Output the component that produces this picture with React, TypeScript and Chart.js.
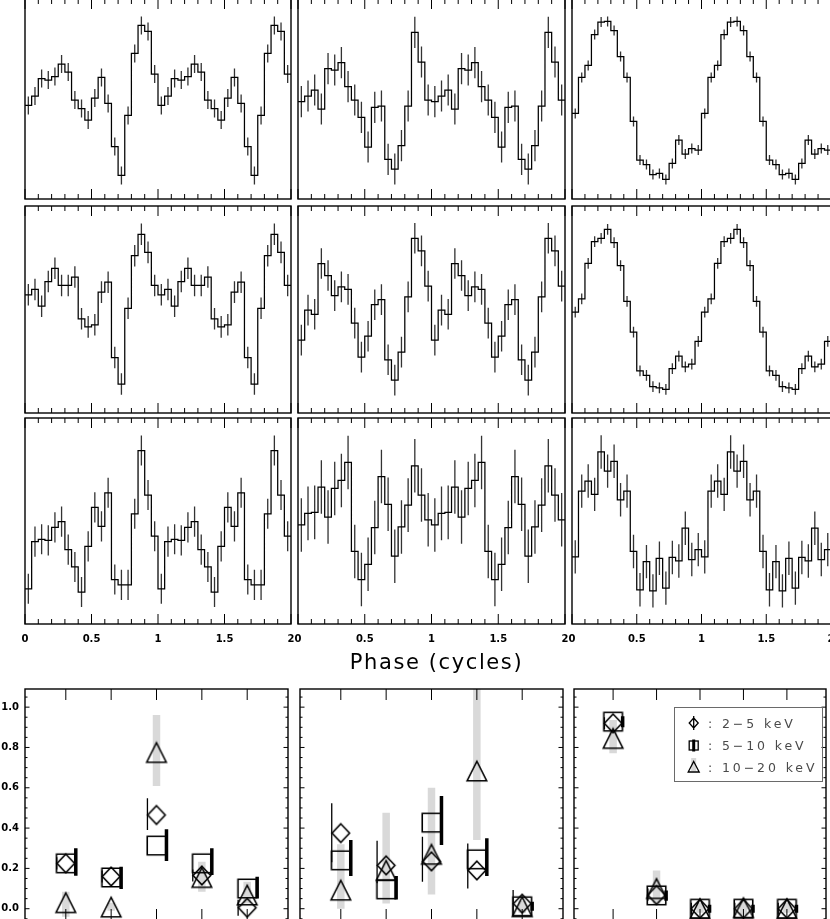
import React, { useEffect, useRef } from 'react';
import { Chart, registerables } from 'chart.js';

Chart.register(...registerables);

const FONT_FAMILY = '"DejaVu Sans", "Liberation Sans", Arial, sans-serif';

/* ---------------- upper panels: pulse profiles ---------------- */
const PHASE_TICKS = [0, 0.5, 1, 1.5, 2];
const PHASE_TICK_LABELS = ['0', '0.5', '1', '1.5', '2'];
const PHASE_MINOR_TICKS = [0.1, 0.2, 0.3, 0.4, 0.6, 0.7, 0.8, 0.9, 1.1, 1.2, 1.3, 1.4, 1.6, 1.7, 1.8, 1.9];
const PHASE_BIN_WIDTH = 0.05;
const PHASE_CYCLES = 2;

// normalised count rate per phase bin (one cycle, 20 bins), shown twice
const PROFILE_R1C1 = [0.468, 0.515, 0.602, 0.595, 0.612, 0.675, 0.635, 0.495, 0.452, 0.395, 0.505, 0.608, 0.478, 0.262, 0.118, 0.418, 0.728, 0.868, 0.838, 0.625];
const PROFILE_R1C2 = [0.487, 0.515, 0.545, 0.450, 0.652, 0.645, 0.682, 0.562, 0.495, 0.408, 0.260, 0.458, 0.465, 0.198, 0.150, 0.267, 0.465, 0.833, 0.685, 0.495];
const PROFILE_R1C3 = [0.428, 0.608, 0.668, 0.822, 0.885, 0.888, 0.842, 0.712, 0.608, 0.388, 0.195, 0.172, 0.122, 0.128, 0.098, 0.178, 0.295, 0.225, 0.252, 0.245];
const PROFILE_R2C1 = [0.571, 0.597, 0.516, 0.635, 0.699, 0.616, 0.616, 0.657, 0.455, 0.416, 0.426, 0.584, 0.632, 0.268, 0.140, 0.506, 0.760, 0.863, 0.776, 0.616];
const PROFILE_R2C2 = [0.352, 0.497, 0.477, 0.722, 0.664, 0.567, 0.609, 0.597, 0.434, 0.270, 0.371, 0.523, 0.548, 0.257, 0.159, 0.294, 0.561, 0.844, 0.783, 0.613];
const PROFILE_R2C3 = [0.487, 0.551, 0.723, 0.828, 0.844, 0.887, 0.823, 0.712, 0.539, 0.391, 0.204, 0.182, 0.127, 0.121, 0.114, 0.214, 0.275, 0.223, 0.236, 0.346];
const PROFILE_R3C1 = [0.171, 0.400, 0.411, 0.406, 0.469, 0.497, 0.361, 0.277, 0.155, 0.377, 0.566, 0.474, 0.637, 0.216, 0.190, 0.190, 0.535, 0.842, 0.626, 0.426];
const PROFILE_R3C2 = [0.481, 0.537, 0.542, 0.665, 0.519, 0.658, 0.697, 0.784, 0.352, 0.216, 0.290, 0.468, 0.716, 0.581, 0.329, 0.471, 0.577, 0.768, 0.626, 0.506];
const PROFILE_R3C3 = [0.326, 0.645, 0.694, 0.629, 0.835, 0.742, 0.790, 0.603, 0.645, 0.352, 0.166, 0.303, 0.161, 0.319, 0.174, 0.323, 0.306, 0.465, 0.313, 0.361];

// 1-sigma error of each panel (row-major)
const PROFILE_ERRORS = [0.045, 0.078, 0.025, 0.052, 0.074, 0.026, 0.073, 0.130, 0.081];

/* ---------------- lower panels: fractions per phase interval ---------------- */
const INTERVALS = [1, 2, 3, 4, 5];
const FRACTION_TICKS = [0, 0.2, 0.4, 0.6, 0.8, 1.0];
const FRACTION_TICK_LABELS = ['0.0', '0.2', '0.4', '0.6', '0.8', '1.0'];
const FRACTION_MINOR_TICKS = [-0.05, 0.05, 0.1, 0.15, 0.25, 0.3, 0.35, 0.45, 0.5, 0.55, 0.65, 0.7, 0.75, 0.85, 0.9, 0.95, 1.05];
const ENERGY_BANDS = ['2\u22125 keV', '5\u221210 keV', '10\u221220 keV'];

// left panel
const A_SOFT = [0.225, 0.16, 0.465, 0.165, 0.005];
const A_SOFT_LO = [0.195, 0.13, 0.39, 0.135, -0.035];
const A_SOFT_HI = [0.255, 0.19, 0.548, 0.195, 0.045];
const A_MID = [0.225, 0.155, 0.313, 0.225, 0.10];
const A_MID_LO = [0.164, 0.098, 0.237, 0.167, 0.051];
const A_MID_HI = [0.30, 0.208, 0.394, 0.30, 0.159];
const A_HARD = [0.03, 0.008, 0.775, 0.155, 0.068];
const A_HARD_LO = [-0.04, -0.01, 0.609, 0.084, 0.026];
const A_HARD_HI = [0.084, 0.03, 0.961, 0.233, 0.134];
// middle panel
const B_SOFT = [0.375, 0.215, 0.235, 0.19, 0.025];
const B_SOFT_LO = [0.23, 0.126, 0.134, 0.10, -0.04];
const B_SOFT_HI = [0.523, 0.337, 0.357, 0.324, 0.093];
const B_MID = [0.24, 0.096, 0.427, 0.245, 0.012];
const B_MID_LO = [0.162, 0.046, 0.316, 0.162, -0.01];
const B_MID_HI = [0.341, 0.162, 0.559, 0.349, 0.035];
const B_HARD = [0.092, 0.19, 0.27, 0.683, 0.01];
const B_HARD_LO = [0.0, 0.026, 0.071, 0.341, -0.02];
const B_HARD_HI = [0.32, 0.476, 0.60, 1.1, 0.04];
// right panel
const C_SOFT = [0.92, 0.068, 0.0, 0.0, 0.0];
const C_SOFT_LO = [0.89, 0.04, -0.03, -0.03, -0.03];
const C_SOFT_HI = [0.95, 0.10, 0.03, 0.03, 0.03];
const C_MID = [0.928, 0.066, 0.0, 0.0, 0.0];
const C_MID_LO = [0.90, 0.04, -0.02, -0.02, -0.02];
const C_MID_HI = [0.955, 0.09, 0.02, 0.02, 0.02];
const C_HARD = [0.845, 0.10, 0.0, 0.005, 0.0];
const C_HARD_LO = [0.771, 0.026, -0.02, -0.03, -0.02];
const C_HARD_HI = [0.936, 0.19, 0.03, 0.05, 0.03];

/* ---------------- geometry (page pixels) ---------------- */
const UPPER_COLS = [{ l: 25, r: 291 }, { l: 298, r: 565 }, { l: 572, r: 831 }];
const UPPER_ROWS = [{ t: -1, b: 199 }, { t: 206, b: 413 }, { t: 418, b: 624 }];
const LOWER_COLS = [{ l: 25, r: 290 }, { l: 298, r: 565 }, { l: 572, r: 828 }];
const LOWER_ROW = { t: 689, b: 920 };
const SOFT_BAR_SHIFT = -0.2;
const MID_BAR_SHIFT = 0.22;

type TickSpec = { major: number[]; minor: number[]; majorLen: number; minorLen: number };

function framePlugin(xt: TickSpec, yt: TickSpec | null) {
  return {
    id: 'frameTicks',
    afterDatasetsDraw(chart: any) {
      const { ctx, chartArea: a, scales } = chart;
      const xs = scales.x;
      const ys = scales.y;
      ctx.save();
      ctx.strokeStyle = '#000';
      ctx.lineWidth = 1;
      ctx.beginPath();
      const xTick = (v: number, len: number) => {
        const p = xs.getPixelForValue(v);
        ctx.moveTo(p, a.top);
        ctx.lineTo(p, a.top + len);
        ctx.moveTo(p, a.bottom);
        ctx.lineTo(p, a.bottom - len);
      };
      const yTick = (v: number, len: number) => {
        const p = ys.getPixelForValue(v);
        ctx.moveTo(a.left, p);
        ctx.lineTo(a.left + len, p);
        ctx.moveTo(a.right, p);
        ctx.lineTo(a.right - len, p);
      };
      xt.major.forEach((v) => xTick(v, xt.majorLen));
      xt.minor.forEach((v) => xTick(v, xt.minorLen));
      if (yt) {
        yt.major.forEach((v) => yTick(v, yt.majorLen));
        yt.minor.forEach((v) => yTick(v, yt.minorLen));
      }
      ctx.stroke();
      ctx.lineWidth = 1.4;
      ctx.strokeRect(a.left, a.top, a.right - a.left, a.bottom - a.top);
      ctx.restore();
    },
  };
}

function profileConfig(vals: number[], err: number, withLabels: boolean, pad: any) {
  const steps: any[] = [];
  const bars: any[] = [];
  for (let c = 0; c < PHASE_CYCLES; c++) {
    vals.forEach((v, i) => {
      const x0 = (c * vals.length + i) * PHASE_BIN_WIDTH;
      steps.push({ x: x0, y: v });
      const xc = x0 + PHASE_BIN_WIDTH / 2;
      bars.push({ x: xc, y: v - err }, { x: xc, y: v + err }, { x: xc, y: null });
    });
  }
  steps.push({ x: PHASE_CYCLES * vals.length * PHASE_BIN_WIDTH, y: vals[vals.length - 1] });

  return {
    type: 'line',
    data: {
      datasets: [
        { data: steps, stepped: 'before', borderColor: '#000', borderWidth: 1.25, pointRadius: 0, fill: false, order: 1 },
        { data: bars, borderColor: '#333', borderWidth: 1.3, pointRadius: 0, fill: false, spanGaps: false, order: 2 },
      ],
    },
    options: {
      animation: false,
      responsive: false,
      maintainAspectRatio: false,
      events: [],
      layout: { padding: pad },
      plugins: { legend: { display: false }, tooltip: { enabled: false } },
      scales: {
        x: {
          type: 'linear',
          min: 0,
          max: 2,
          display: withLabels,
          position: 'bottom',
          grid: { display: false, drawTicks: false },
          border: { display: false },
          afterBuildTicks: (s: any) => {
            s.ticks = PHASE_TICKS.map((v) => ({ value: v }));
          },
          afterFit: (s: any) => {
            if (withLabels) s.height = 28;
          },
          ticks: {
            autoSkip: false,
            maxRotation: 0,
            padding: 9,
            color: '#000',
            font: { family: FONT_FAMILY, size: 10, weight: 'bold' },
            callback: (_v: any, i: number) => PHASE_TICK_LABELS[i],
          },
        },
        y: { type: 'linear', min: 0, max: 1, display: false },
      },
    },
    plugins: [
      framePlugin({ major: PHASE_TICKS, minor: PHASE_MINOR_TICKS, majorLen: 10, minorLen: 5 }, null),
    ],
  };
}

function markerCanvas(kind: string, w: number, h: number, lw: number) {
  const c = document.createElement('canvas');
  const W = Math.ceil(w + lw + 2);
  const H = Math.ceil(h + lw + 2);
  c.width = W;
  c.height = H;
  const g = c.getContext('2d')!;
  g.strokeStyle = '#000';
  g.lineWidth = lw;
  g.lineJoin = 'miter';
  const cx = W / 2;
  const cy = H / 2;
  g.beginPath();
  if (kind === 'diamond') {
    g.moveTo(cx, cy - h / 2);
    g.lineTo(cx + w / 2, cy);
    g.lineTo(cx, cy + h / 2);
    g.lineTo(cx - w / 2, cy);
    g.closePath();
  } else if (kind === 'square') {
    g.rect(cx - w / 2, cy - h / 2, w, h);
  } else {
    g.moveTo(cx, cy - h / 2);
    g.lineTo(cx + w / 2, cy + h / 2);
    g.lineTo(cx - w / 2, cy + h / 2);
    g.closePath();
  }
  g.stroke();
  return c;
}

function barData(lo: number[], hi: number[], shift: number) {
  const out: any[] = [];
  INTERVALS.forEach((x, i) => {
    out.push({ x: x + shift, y: lo[i] }, { x: x + shift, y: hi[i] }, { x: x + shift, y: null });
  });
  return out;
}

function pointData(vals: number[]) {
  return INTERVALS.map((x, i) => ({ x, y: vals[i] }));
}

const LEGEND_GEOM = {
  l: 100.5, t: 18.5, w: 148, h: 74,
  symX: 119.7, symY: [34, 56.5, 78],
  textX: 134, baselines: [38.5, 61, 82.5],
};

function legendPlugin() {
  return {
    id: 'bandLegend',
    afterDraw(chart: any) {
      const { ctx, chartArea: a } = chart;
      const L = LEGEND_GEOM;
      const x0 = a.left;
      const y0 = a.top;
      ctx.save();
      ctx.strokeStyle = '#6a6a6a';
      ctx.lineWidth = 1;
      ctx.strokeRect(x0 + L.l, y0 + L.t, L.w, L.h);
      const sx = x0 + L.symX;
      // 2-5 keV: diamond + thin bar
      let sy = y0 + L.symY[0];
      ctx.strokeStyle = '#000';
      ctx.lineWidth = 1.3;
      ctx.beginPath();
      ctx.moveTo(sx, sy - 7);
      ctx.lineTo(sx, sy + 7);
      ctx.moveTo(sx, sy - 5);
      ctx.lineTo(sx + 4.5, sy);
      ctx.lineTo(sx, sy + 5);
      ctx.lineTo(sx - 4.5, sy);
      ctx.closePath();
      ctx.stroke();
      // 5-10 keV: square + thick bar
      sy = y0 + L.symY[1];
      ctx.lineWidth = 1.3;
      ctx.strokeRect(sx - 4.5, sy - 4.5, 9, 9);
      ctx.lineWidth = 3;
      ctx.beginPath();
      ctx.moveTo(sx, sy - 6);
      ctx.lineTo(sx, sy + 6);
      ctx.stroke();
      // 10-20 keV: triangle + grey bar
      sy = y0 + L.symY[2];
      ctx.strokeStyle = '#d8d8d8';
      ctx.lineWidth = 5;
      ctx.beginPath();
      ctx.moveTo(sx, sy - 9);
      ctx.lineTo(sx, sy + 4);
      ctx.stroke();
      ctx.strokeStyle = '#000';
      ctx.lineWidth = 1.3;
      ctx.beginPath();
      ctx.moveTo(sx, sy - 5.5);
      ctx.lineTo(sx + 5.5, sy + 5);
      ctx.lineTo(sx - 5.5, sy + 5);
      ctx.closePath();
      ctx.stroke();
      // labels
      ctx.font = `12.5px ${FONT_FAMILY}`;
      (ctx as any).letterSpacing = '2.9px';
      ctx.fillStyle = '#4a4a4a';
      ctx.textAlign = 'left';
      ctx.textBaseline = 'alphabetic';
      ENERGY_BANDS.forEach((b, i) => {
        ctx.fillText(': ' + b, x0 + L.textX, y0 + L.baselines[i]);
      });
      (ctx as any).letterSpacing = '0px';
      ctx.restore();
    },
  };
}

const LOWER_PANELS = [
  { soft: A_SOFT, softLo: A_SOFT_LO, softHi: A_SOFT_HI, mid: A_MID, midLo: A_MID_LO, midHi: A_MID_HI, hard: A_HARD, hardLo: A_HARD_LO, hardHi: A_HARD_HI },
  { soft: B_SOFT, softLo: B_SOFT_LO, softHi: B_SOFT_HI, mid: B_MID, midLo: B_MID_LO, midHi: B_MID_HI, hard: B_HARD, hardLo: B_HARD_LO, hardHi: B_HARD_HI },
  { soft: C_SOFT, softLo: C_SOFT_LO, softHi: C_SOFT_HI, mid: C_MID, midLo: C_MID_LO, midHi: C_MID_HI, hard: C_HARD, hardLo: C_HARD_LO, hardHi: C_HARD_HI },
];

function fractionConfig(p: any, showY: boolean, withLegend: boolean, pad: any) {
  const diamond = markerCanvas('diamond', 17.5, 18.5, 1.6);
  const square = markerCanvas('square', 18.5, 18.5, 1.6);
  const triangle = markerCanvas('triangle', 19.5, 19.5, 1.6);
  const plugins: any[] = [
    framePlugin(
      { major: INTERVALS, minor: [], majorLen: 11, minorLen: 0 },
      { major: FRACTION_TICKS, minor: FRACTION_MINOR_TICKS, majorLen: 4.5, minorLen: 2.5 },
    ),
  ];
  if (withLegend) plugins.push(legendPlugin());
  return {
    type: 'line',
    data: {
      datasets: [
        { label: ENERGY_BANDS[2] + ' err', data: barData(p.hardLo, p.hardHi, 0), borderColor: '#d9d9d9', borderWidth: 7.5, pointRadius: 0, spanGaps: false, order: 6 },
        { label: ENERGY_BANDS[2], data: pointData(p.hard), showLine: false, pointStyle: triangle, pointRadius: 3, order: 5 },
        { label: ENERGY_BANDS[1] + ' err', data: barData(p.midLo, p.midHi, MID_BAR_SHIFT), borderColor: '#000', borderWidth: 3.5, pointRadius: 0, spanGaps: false, order: 4 },
        { label: ENERGY_BANDS[1], data: pointData(p.mid), showLine: false, pointStyle: square, pointRadius: 3, order: 3 },
        { label: ENERGY_BANDS[0] + ' err', data: barData(p.softLo, p.softHi, SOFT_BAR_SHIFT), borderColor: '#000', borderWidth: 1.3, pointRadius: 0, spanGaps: false, order: 2 },
        { label: ENERGY_BANDS[0], data: pointData(p.soft), showLine: false, pointStyle: diamond, pointRadius: 3, order: 1 },
      ],
    },
    options: {
      animation: false,
      responsive: false,
      maintainAspectRatio: false,
      events: [],
      layout: { padding: pad },
      plugins: { legend: { display: false }, tooltip: { enabled: false } },
      scales: {
        x: { type: 'linear', min: 0.1, max: 5.9, display: false },
        y: {
          type: 'linear',
          min: -0.056,
          max: 1.09,
          display: showY,
          position: 'left',
          grid: { display: false, drawTicks: false },
          border: { display: false },
          afterBuildTicks: (s: any) => {
            s.ticks = FRACTION_TICKS.map((v) => ({ value: v }));
          },
          afterFit: (s: any) => {
            if (showY) s.width = 25;
          },
          ticks: {
            padding: 6,
            color: '#000',
            font: { family: FONT_FAMILY, size: 10, weight: 'bold' },
            callback: (_v: any, i: number) => FRACTION_TICK_LABELS[i],
          },
        },
      },
    },
    plugins,
  };
}

function ChartCanvas({ left, top, width, height, build }: any) {
  const ref = useRef<HTMLCanvasElement>(null);
  useEffect(() => {
    const chart = new Chart(ref.current as HTMLCanvasElement, build());
    return () => chart.destroy();
  }, []);
  return (
    <canvas
      ref={ref}
      width={width}
      height={height}
      style={{ position: 'absolute', left, top, width, height }}
    />
  );
}

const PROFILES = [
  PROFILE_R1C1, PROFILE_R1C2, PROFILE_R1C3,
  PROFILE_R2C1, PROFILE_R2C2, PROFILE_R2C3,
  PROFILE_R3C1, PROFILE_R3C2, PROFILE_R3C3,
];

export default function App() {
  const upper: any[] = [];
  UPPER_ROWS.forEach((row, ri) => {
    UPPER_COLS.forEach((col, ci) => {
      const idx = ri * 3 + ci;
      const withLabels = ri === 2;
      const pad = withLabels ? { left: 20, right: 20, top: 3, bottom: 0 } : { left: 3, right: 3, top: 3, bottom: 3 };
      const width = col.r - col.l + pad.left + pad.right;
      const height = row.b - row.t + pad.top + pad.bottom + (withLabels ? 28 : 0);
      upper.push(
        <ChartCanvas
          key={'u' + idx}
          left={col.l - pad.left}
          top={row.t - pad.top}
          width={width}
          height={height}
          build={() => profileConfig(PROFILES[idx], PROFILE_ERRORS[idx], withLabels, pad)}
        />,
      );
    });
  });

  const lower = LOWER_COLS.map((col, ci) => {
    const showY = ci === 0;
    const pad = { left: showY ? 0 : 3, right: 3, top: 16, bottom: 16 };
    const axisW = showY ? 25 : 0;
    const width = col.r - col.l + pad.left + pad.right + axisW;
    const height = LOWER_ROW.b - LOWER_ROW.t + pad.top + pad.bottom;
    return (
      <ChartCanvas
        key={'l' + ci}
        left={col.l - pad.left - axisW}
        top={LOWER_ROW.t - pad.top}
        width={width}
        height={height}
        build={() => fractionConfig(LOWER_PANELS[ci], showY, ci === 2, pad)}
      />
    );
  });

  return (
    <div style={{ position: 'absolute', left: 0, top: 0, width: 830, height: 919, overflow: 'hidden', background: '#fff' }}>
      {upper}
      <div
        style={{
          position: 'absolute',
          left: 286.5,
          top: 652,
          width: 300,
          textAlign: 'center',
          fontFamily: FONT_FAMILY,
          fontSize: 21,
          lineHeight: '21px',
          letterSpacing: '1.6px',
          color: '#000',
          whiteSpace: 'nowrap',
        }}
      >
        Phase (cycles)
      </div>
      {lower}
    </div>
  );
}
